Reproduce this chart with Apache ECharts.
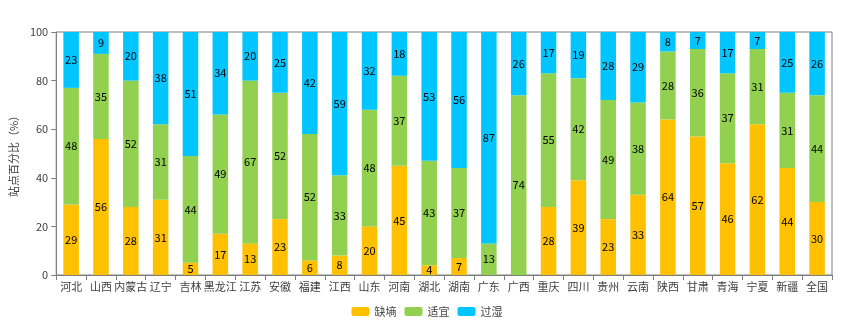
<!DOCTYPE html>
<html>
<head>
<meta charset="utf-8">
<script src="https://cdn.jsdelivr.net/npm/echarts@6/dist/echarts.min.js"></script>
<style>
  html, body { margin: 0; padding: 0; background: #fff; }
  #chart { width: 854px; height: 323px; }
</style>
</head>
<body>
<div id="chart"></div>
<script>
// Provinces / regions
const regions = ['河北','山西','内蒙古','辽宁','吉林','黑龙江','江苏','安徽','福建','江西','山东','河南','湖北','湖南','广东','广西','重庆','四川','贵州','云南','陕西','甘肃','青海','宁夏','新疆','全国'];
// Share of stations by soil moisture class (%)
const dry  = [29,56,28,31,5,17,13,23,6,8,20,45,4,7,0,0,28,39,23,33,64,57,46,62,44,30];
const fit  = [48,35,52,31,44,49,67,52,52,33,48,37,43,37,13,74,55,42,49,38,28,36,37,31,31,44];
const wet  = [23,9,20,38,51,34,20,25,42,59,32,18,53,56,87,26,17,19,28,29,8,7,17,7,25,26];
const seriesNames = ['缺墒','适宜','过湿'];
const yTicks = [0,20,40,60,80,100];

const colors = ['#FFC000','#92D050','#00C5FF'];
const font = '"Noto Sans CJK SC", "Noto Sans", sans-serif';

const chart = echarts.init(document.getElementById('chart'));
const mk = (name, data, color) => ({
  name, type: 'bar', stack: 'total', data, barWidth: '52%',
  itemStyle: { color },
  label: {
    show: true, position: 'inside', color: '#000', fontSize: 11, fontFamily: font,
    formatter: p => (p.value === 0 ? '' : p.value)
  }
});
chart.setOption({
  animation: false,
  color: colors,
  grid: { left: 46, right: 22, top: 32, bottom: 48, show: true, borderColor: '#7f7f7f', borderWidth: 1 },
  legend: {
    bottom: 1, left: 'center', itemWidth: 18, itemHeight: 9, itemGap: 8,
    textStyle: { fontSize: 11, color: '#404040', fontFamily: font },
    data: seriesNames
  },
  xAxis: {
    type: 'category', data: regions,
    axisLine: { lineStyle: { color: '#7f7f7f' } },
    axisTick: { show: true, alignWithLabel: false, lineStyle: { color: '#7f7f7f' } },
    axisLabel: { color: '#404040', fontSize: 11, fontFamily: font, interval: 0, margin: 6 }
  },
  yAxis: {
    type: 'value', min: yTicks[0], max: yTicks[yTicks.length - 1], interval: 20,
    name: '站点百分比（%）', nameLocation: 'middle', nameGap: 24,
    nameTextStyle: { fontSize: 11, color: '#404040', fontFamily: font },
    splitLine: { show: false },
    axisLine: { show: true, lineStyle: { color: '#7f7f7f' } },
    axisTick: { show: true, lineStyle: { color: '#7f7f7f' } },
    axisLabel: { color: '#404040', fontSize: 11, fontFamily: font }
  },
  series: [
    mk(seriesNames[0], dry, colors[0]),
    mk(seriesNames[1], fit, colors[1]),
    mk(seriesNames[2], wet, colors[2])
  ]
});
</script>
</body>
</html>
